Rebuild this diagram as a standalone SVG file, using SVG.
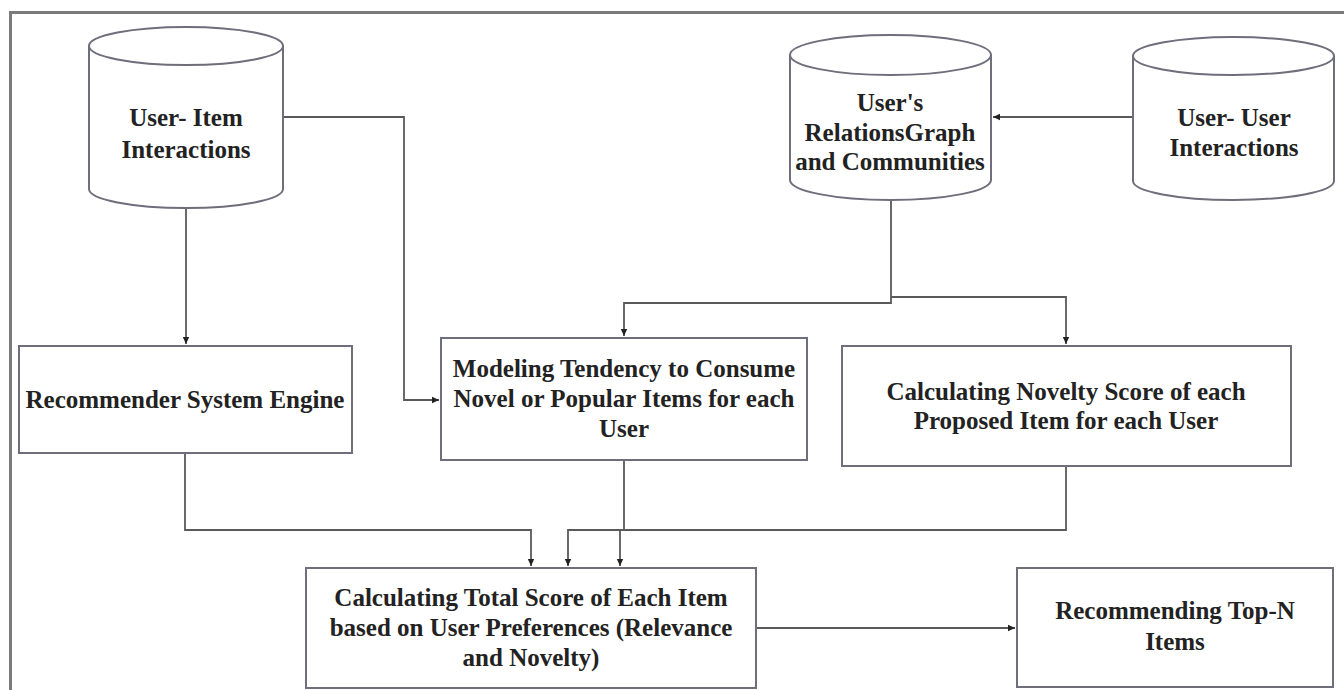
<svg xmlns="http://www.w3.org/2000/svg" width="1344" height="690" viewBox="0 0 1344 690">
<defs>
<style>
.box{fill:#fff;stroke:#6e6e7c;stroke-width:2}
.cyl{fill:#fff;stroke:#6e6e7c;stroke-width:2}
.lbl{font-family:"Liberation Serif","Times New Roman",serif;font-weight:bold;font-size:25px;fill:#222;text-anchor:middle}
.con{fill:none;stroke:#5a5a5a;stroke-width:1.8}
</style>
<marker id="ah" markerUnits="userSpaceOnUse" markerWidth="10" markerHeight="10" refX="7" refY="4" orient="auto">
<path d="M0,0.8 L7,4 L0,7.2 Z" fill="#222"/>
</marker>
</defs>
<rect x="0" y="0" width="1344" height="690" fill="#fff"/>
<path d="M10.5,690 V12.5 H1344" fill="none" stroke="#7a7a7a" stroke-width="3"/>

<g id="connectors">
<path class="con" d="M283,117 H404 V400 H439" marker-end="url(#ah)"/>
<path class="con" d="M186,208 V344" marker-end="url(#ah)"/>
<path class="con" d="M1133,117 H993" marker-end="url(#ah)"/>
<path class="con" d="M891,200 V303 H624 V336" marker-end="url(#ah)"/>
<path class="con" d="M891,297 H1066 V344" marker-end="url(#ah)"/>
<path class="con" d="M185,453 V530 H531 V566" marker-end="url(#ah)"/>
<path class="con" d="M624,460 V530 H620 V566" marker-end="url(#ah)"/>
<path class="con" d="M1066,466 V530 H568 V566" marker-end="url(#ah)"/>
<path class="con" d="M756,628 H1015" marker-end="url(#ah)"/>
</g>

<g id="user-item-interactions">
<path class="cyl" d="M89,46 V189 A97,19 0 0 0 283,189 V46"/>
<ellipse class="cyl" cx="186" cy="46" rx="97" ry="19"/>
<text class="lbl" x="186" y="126">User- Item</text>
<text class="lbl" x="186" y="158">Interactions</text>
</g>

<g id="users-relations-graph">
<path class="cyl" d="M790,55 V180 A100.5,20 0 0 0 991,180 V55"/>
<ellipse class="cyl" cx="890.5" cy="55" rx="100.5" ry="20"/>
<text class="lbl" x="890" y="111">User's</text>
<text class="lbl" x="890" y="141">RelationsGraph</text>
<text class="lbl" x="890" y="170">and Communities</text>
</g>

<g id="user-user-interactions">
<path class="cyl" d="M1133,56 V181 A100.5,19 0 0 0 1334,181 V56"/>
<ellipse class="cyl" cx="1233.5" cy="56" rx="100.5" ry="19"/>
<text class="lbl" x="1234" y="126">User- User</text>
<text class="lbl" x="1234" y="156">Interactions</text>
</g>

<g id="recommender-system-engine">
<rect class="box" x="19" y="346" width="333" height="107"/>
<text class="lbl" x="185" y="408">Recommender System Engine</text>
</g>

<g id="modeling-tendency">
<rect class="box" x="441" y="338" width="366" height="122"/>
<text class="lbl" x="624" y="377">Modeling Tendency to Consume</text>
<text class="lbl" x="624" y="407">Novel or Popular Items for each</text>
<text class="lbl" x="624" y="437">User</text>
</g>

<g id="novelty-score">
<rect class="box" x="842" y="346" width="449" height="120"/>
<text class="lbl" x="1066" y="400">Calculating Novelty Score of each</text>
<text class="lbl" x="1066" y="429">Proposed Item for each User</text>
</g>

<g id="total-score">
<rect class="box" x="306" y="568" width="450" height="120"/>
<text class="lbl" x="531" y="606">Calculating Total Score of Each Item</text>
<text class="lbl" x="531" y="636">based on User Preferences (Relevance</text>
<text class="lbl" x="531" y="666">and Novelty)</text>
</g>

<g id="recommending-top-n">
<rect class="box" x="1017" y="568" width="316" height="119"/>
<text class="lbl" x="1175" y="619">Recommending Top-N</text>
<text class="lbl" x="1175" y="650">Items</text>
</g>
</svg>
